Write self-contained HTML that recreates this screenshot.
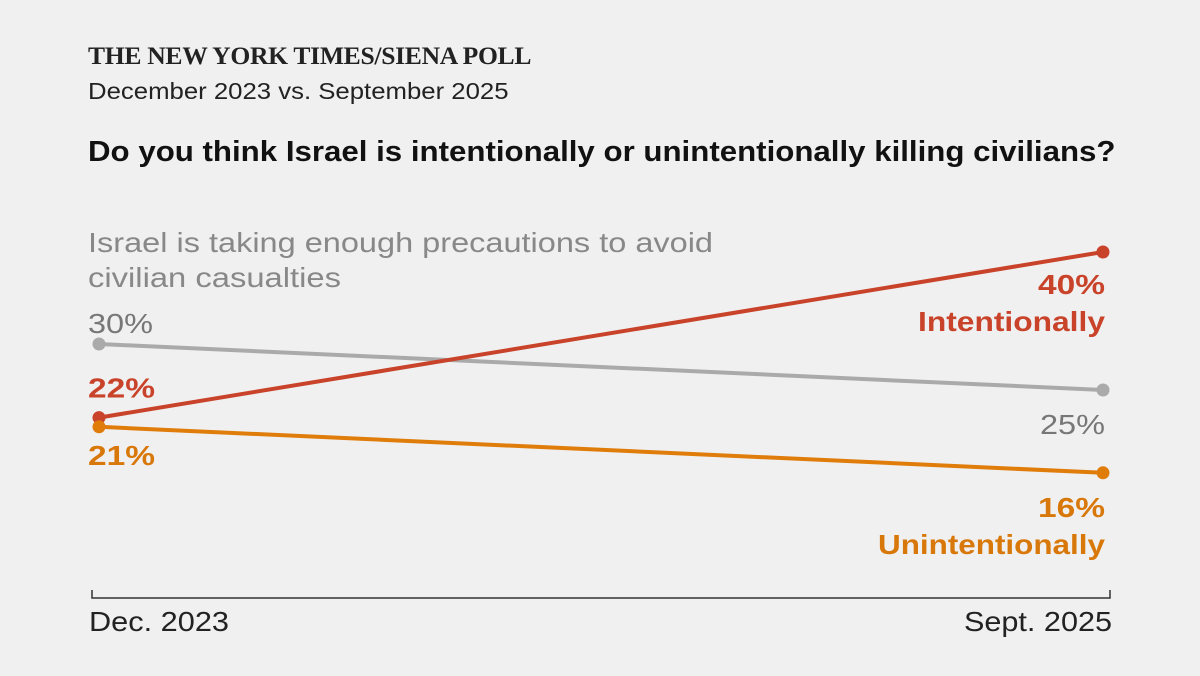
<!DOCTYPE html>
<html><head><meta charset="utf-8">
<style>
html,body{margin:0;padding:0;background:#f0f0f0;}
#wrap{position:relative;width:1200px;height:676px;background:#f0f0f0;font-family:"Liberation Sans",sans-serif;overflow:hidden;}
.t{position:absolute;white-space:nowrap;transform-origin:0 0;}
</style></head><body>
<div id="wrap">
<div class="t" style="left:88px;top:41px;font-family:'Liberation Serif',serif;font-weight:bold;font-size:25.6px;color:#222;letter-spacing:-0.3px;">THE NEW YORK TIMES/SIENA POLL</div>
<div class="t" style="left:88px;top:78px;font-size:23.5px;color:#222;transform:scaleX(1.095);">December 2023 vs. September 2025</div>
<div class="t" style="left:88px;top:136px;font-size:28.5px;font-weight:bold;color:#111;transform:scaleX(1.096);">Do you think Israel is intentionally or unintentionally killing civilians?</div>
<svg id="chart" width="1200" height="676" style="position:absolute;left:0;top:0"></svg>
</div>
<script>
const periods=["Dec. 2023","Sept. 2025"];
const seriesNames=["Precautions","Intentionally","Unintentionally"];
const precautions=[30,25];
const intentionally=[22,40];
const unintentionally=[21,16];
const NS="http://www.w3.org/2000/svg";
const svg=document.getElementById('chart');
function x(i){return 99+i*(1103-99);}
function y(v){return 252+(40-v)*9.2;}
function el(t,a){const e=document.createElementNS(NS,t);for(const k in a)e.setAttribute(k,a[k]);svg.appendChild(e);return e;}
function txt(s,xx,yy,opts){const e=el('text',Object.assign({x:xx,y:yy,'font-family':'Liberation Sans, sans-serif'},opts));e.textContent=s;return e;}
const series=[
 {name:"precautions",vals:precautions,color:"#aaaaaa"},
 {name:"intentionally",vals:intentionally,color:"#c9432a"},
 {name:"unintentionally",vals:unintentionally,color:"#e07c0a"}
];
const ax=el('path',{d:"M92,590 V598 H1110 V590",stroke:"#333","stroke-width":1.5,fill:"none"});


const tickLens=[140,148];
periods.forEach((p,i)=>{const t=txt(p,i?1112-tickLens[i]:89,631,{'font-size':28,fill:'#222',textLength:tickLens[i],lengthAdjust:'spacingAndGlyphs'});

});
series.forEach(s=>{
 const l=el('line',{x1:x(0),y1:y(s.vals[0]),x2:x(1),y2:y(s.vals[1]),stroke:s.color,'stroke-width':4});
 
 
 s.vals.forEach((v,i)=>{const c=el('circle',{cx:x(i),cy:y(v),r:6.5,fill:s.color});
 
 });
});
function lab(s,xx,yy,col,bold,anchor,name,len){
 const left=anchor==='end'?xx-len:xx;
 const t=txt(s,left,yy,{'font-size':28,fill:col,'font-weight':bold?'bold':'normal',textLength:len,lengthAdjust:'spacingAndGlyphs'});
 
 }
lab("Israel is taking enough precautions to avoid",88,252,'#888',false,'start','precautions-series-label',625);
lab("civilian casualties",88,287,'#888',false,'start','precautions-series-label-2',253);
lab(precautions[0]+"%",88,y(precautions[0])-11,'#777',false,'start','precautions-start-value',65);
lab(precautions[1]+"%",1105,y(precautions[1])+44,'#777',false,'end','precautions-end-value',65);
lab(intentionally[0]+"%",88,y(intentionally[0])-20,'#c9432a',true,'start','intentionally-start-value',67);
lab(intentionally[1]+"%",1105,y(intentionally[1])+42,'#c9432a',true,'end','intentionally-end-value',67);
lab("Intentionally",1105,y(intentionally[1])+79,'#c9432a',true,'end','intentionally-series-label',187);
lab(unintentionally[0]+"%",88,y(unintentionally[0])+38,'#d9780a',true,'start','unintentionally-start-value',67);
lab(unintentionally[1]+"%",1105,y(unintentionally[1])+44,'#d9780a',true,'end','unintentionally-end-value',67);
lab("Unintentionally",1105,y(unintentionally[1])+81,'#d9780a',true,'end','unintentionally-series-label',227);
</script>
</body></html>
